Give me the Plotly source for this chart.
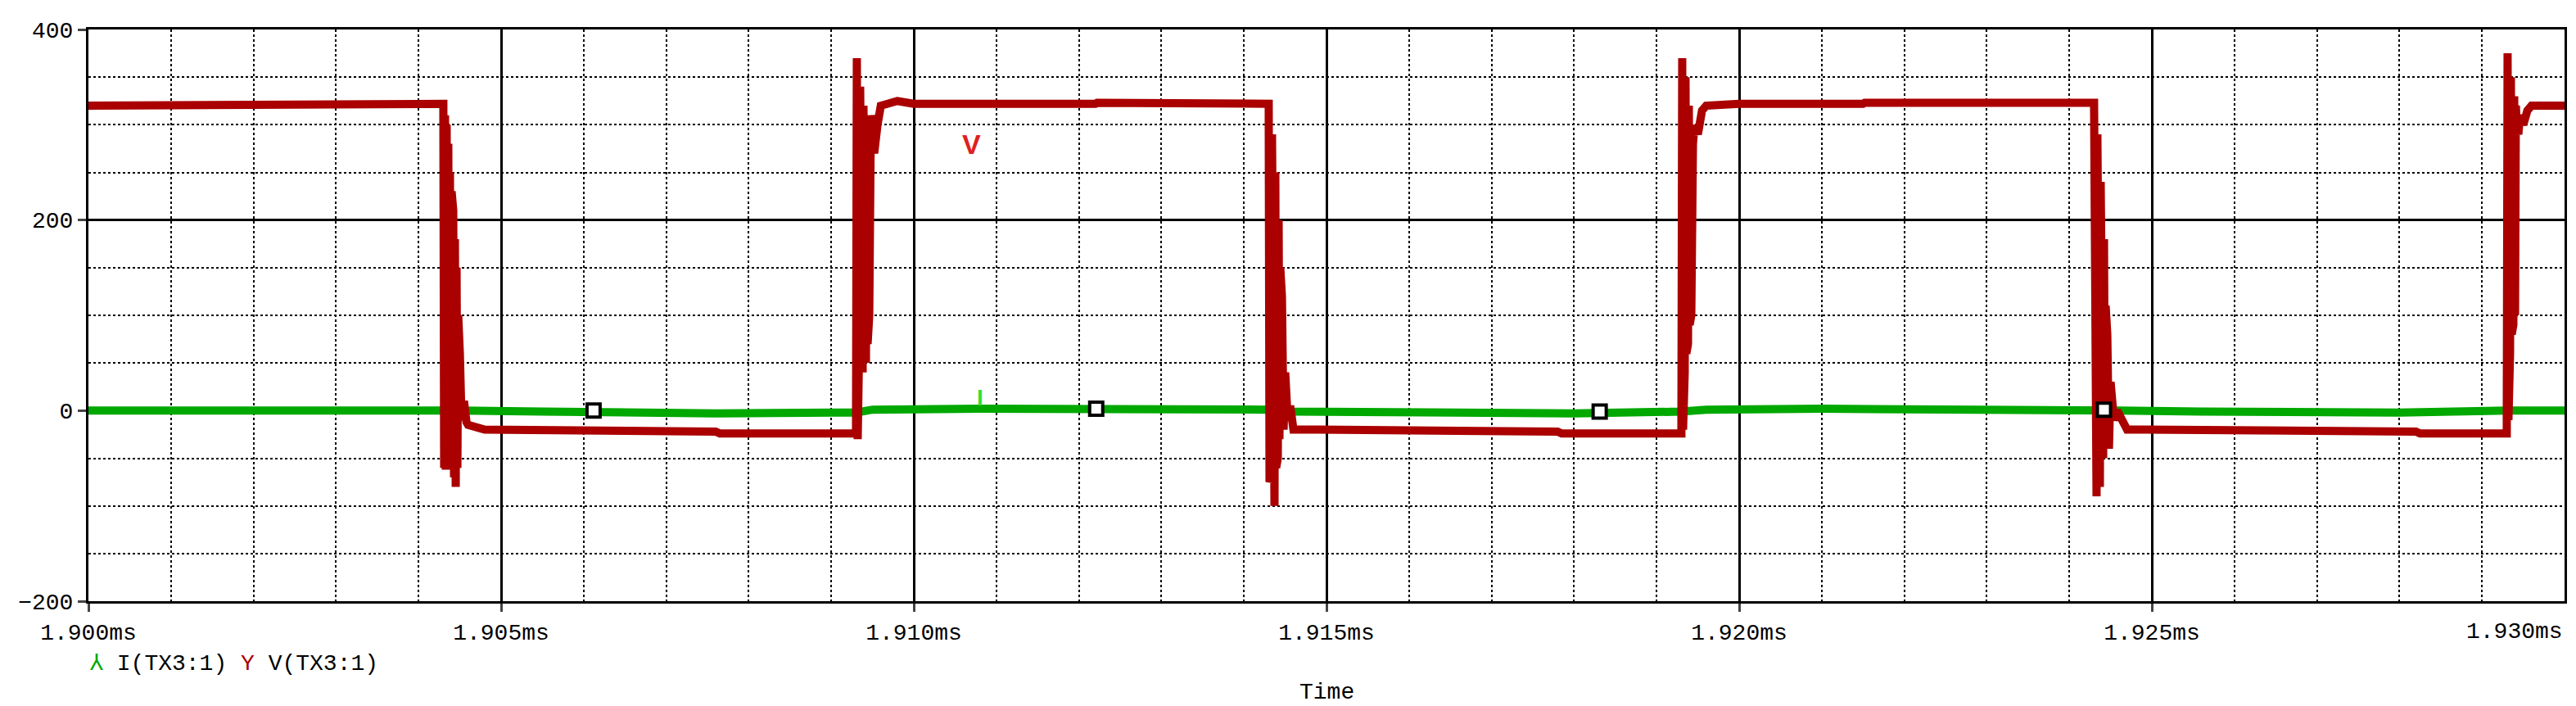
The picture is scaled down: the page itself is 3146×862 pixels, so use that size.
import plotly.graph_objects as go

# V(TX3:1) samples, time in ms
v_t = [1.9000, 1.9015, 1.90152, 1.9043, 1.90431, 1.90432, 1.90433, 1.90434, 1.90435, 1.90436,
       1.90437, 1.90438, 1.90439, 1.90440, 1.90441, 1.90442, 1.90443, 1.90444, 1.90445, 1.90446,
       1.90447, 1.90448, 1.90450, 1.90452, 1.90455, 1.90458, 1.9046, 1.9048, 1.9058,
       1.90585, 1.9076, 1.90765, 1.9093, 1.90931, 1.90932, 1.90933, 1.90934, 1.90935, 1.90936,
       1.90937, 1.90938, 1.90939, 1.90940, 1.90941, 1.90942, 1.90943, 1.90944, 1.90945, 1.90946,
       1.90948, 1.90952, 1.90956, 1.9096, 1.9098, 1.9100, 1.9122, 1.91222,
       1.9143, 1.91431, 1.91432, 1.91433, 1.91434, 1.91435, 1.91436, 1.91437, 1.91438, 1.91439,
       1.91440, 1.91441, 1.91442, 1.91443, 1.91444, 1.91446, 1.91448, 1.91450, 1.91453, 1.91456,
       1.9146, 1.9149, 1.9164, 1.91645, 1.9178, 1.91785, 1.9193, 1.91931, 1.91932, 1.91933,
       1.91934, 1.91935, 1.91936, 1.91937, 1.91938, 1.91939, 1.91940, 1.91941, 1.91942, 1.91944,
       1.91946, 1.91950, 1.91955, 1.9196, 1.9198, 1.9200, 1.9215, 1.92152,
       1.9243, 1.92431, 1.92432, 1.92433, 1.92434, 1.92435, 1.92436, 1.92437, 1.92438, 1.92439,
       1.92440, 1.92441, 1.92442, 1.92443, 1.92444, 1.92446, 1.92448, 1.92450, 1.92454, 1.92458,
       1.9247, 1.9249, 1.9268, 1.92685, 1.9282, 1.92825, 1.9293, 1.92931, 1.92932, 1.92933,
       1.92934, 1.92935, 1.92936, 1.92937, 1.92938, 1.92939, 1.92940, 1.92941, 1.92942, 1.92944,
       1.92946, 1.92950, 1.92955, 1.9296, 1.9298, 1.9300]
v_y = [320, 320, 322, 322, -60, 310, -62, 300, -55, 280,
       -60, 250, -50, 230, -30, 210, -70, 180, -80, 150,
       -60, 100, 60, -10, 10, -12, -15, -20, -20,
       -22, -22, -24, -24, 370, -30, 360, 80, 340, 60,
       330, 40, 320, 60, 300, 50, 290, 70, 280, 100,
       310, 270, 300, 320, 325, 322, 322, 323,
       322, -75, 310, -70, 290, -60, 270, -100, 250, -60,
       230, -50, 200, -30, 150, 120, -20, 40, -10, 5,
       -20, -20, -20, -22, -22, -24, -24, 370, -20, 360,
       40, 350, 60, 330, 70, 320, 90, 310, 100, 280,
       300, 290, 315, 320, 322, 322, 322, 323,
       323, -60, 310, -90, 290, -50, 270, -80, 240, -40,
       200, -50, 180, -20, 110, 80, -40, 30, -10, 0,
       -20, -20, -20, -22, -22, -24, -24, 375, -10, 360,
       60, 350, 80, 340, 90, 330, 100, 320, 300, 290,
       310, 300, 315, 320, 320, 320]

# I(TX3:1) samples
i_t = [1.9000, 1.9015, 1.90152, 1.9043, 1.9045, 1.9055, 1.9063, 1.9076, 1.9093, 1.9095,
       1.9108, 1.9122, 1.9143, 1.9146, 1.9158, 1.9168, 1.9180, 1.9193, 1.9196, 1.9210,
       1.9224, 1.9243, 1.9246, 1.9256, 1.9268, 1.9280, 1.9293, 1.9300]
i_y = [0, 0, 2, 2, 0, -1, -2, -3, -2, 1, 2, 2, 1, -1, -2, -2, -3, -1, 1, 2, 2, 1, 0, -1, -2, -2, 0, 0]

# cursor squares
sq_t = [1.90612, 1.91221, 1.91831, 1.92442]
sq_y = [0, 2, -1, 1]

tick_x = [1.900, 1.905, 1.910, 1.915, 1.920, 1.925, 1.930]
tick_lbl = ['1.900ms', '1.905ms', '1.910ms', '1.915ms', '1.920ms', '1.925ms', '1.930ms']

fig = go.Figure()
fig.add_trace(go.Scatter(x=i_t, y=i_y, mode='lines', line=dict(color='#00A800', width=10), showlegend=False))
fig.add_trace(go.Scatter(x=v_t, y=v_y, mode='lines', line=dict(color='#AA0000', width=10), showlegend=False))
fig.add_trace(go.Scatter(x=sq_t, y=sq_y, mode='markers', showlegend=False,
                         marker=dict(symbol='square', size=16, color='white', line=dict(color='black', width=4))))

font = dict(family='Liberation Mono', size=28, color='black')
fig.add_annotation(x=1.9107, y=280, text='<b>V</b>', showarrow=False, font=dict(family='Arial', size=34, color='#E02020'))
fig.add_annotation(x=1.9108, y=14, text='<b>I</b>', showarrow=False, font=dict(family='Arial', size=28, color='#30E030'))
# last tick label drawn separately so it is not clipped at the right edge
fig.add_annotation(x=tick_x[-1], y=-200, yshift=-37, xanchor='right', showarrow=False, text=tick_lbl[-1], font=font)
fig.add_annotation(xref='paper', yref='paper', x=0.0, y=-0.135, xanchor='left', showarrow=False,
                   text='<span style="color:#00A800">⅄</span> I(TX3:1) <span style="color:#AA0000">Y</span> V(TX3:1)', font=font)
fig.add_annotation(xref='paper', yref='paper', x=0.5, y=-0.185, showarrow=False, text='Time', font=font)

minor = dict(showgrid=True, gridcolor='black', griddash='dot', gridwidth=2)
fig.update_xaxes(range=[1.9, 1.93], tickvals=tick_x[:-1], ticktext=tick_lbl[:-1],
                 showgrid=True, gridcolor='black', gridwidth=3, zeroline=False,
                 showline=True, linecolor='black', linewidth=3, mirror=True,
                 ticks='outside', ticklen=10, tickwidth=3, tickfont=font,
                 minor=dict(dtick=0.001, **minor))
fig.update_yaxes(range=[-200, 400], tickvals=[-200, 0, 200, 400],
                 showgrid=True, gridcolor='black', gridwidth=3, zeroline=False,
                 showline=True, linecolor='black', linewidth=3, mirror=True,
                 ticks='outside', ticklen=10, tickwidth=3, tickfont=font,
                 minor=dict(dtick=50, **minor))
fig.update_layout(width=3146, height=862, plot_bgcolor='white', paper_bgcolor='white',
                  margin=dict(l=100, r=22, t=28, b=136))
fig.write_html("out.html")
